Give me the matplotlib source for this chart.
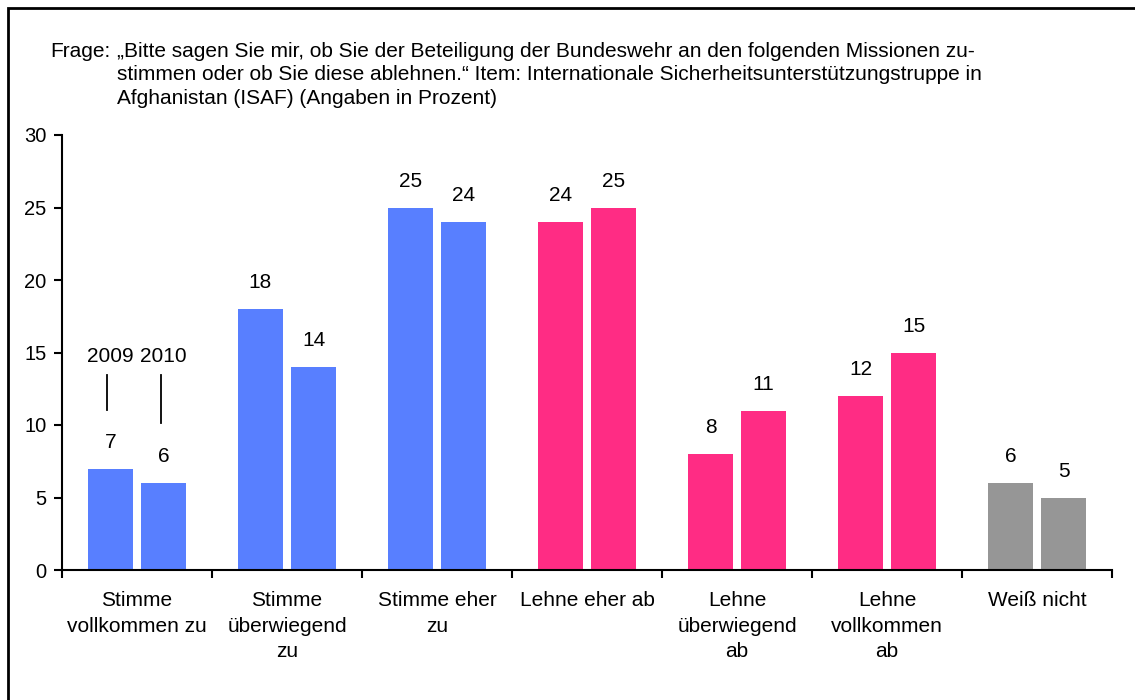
"""
Zustimmung zum ISAF-Einsatz der Bundeswehr, 2009 vs. 2010
"""

import matplotlib
matplotlib.use('Agg')
import matplotlib.pyplot as plt
import matplotlib.patches as patches
import numpy as np

plt.rcParams['font.family'] = ['Liberation Sans', 'DejaVu Sans']

categories = ['Stimme\nvollkommen zu', 'Stimme\nüberwiegend\nzu', 'Stimme eher\nzu',
              'Lehne eher ab', 'Lehne\nüberwiegend\nab', 'Lehne\nvollkommen\nab',
              'Weiß nicht']
vals_2009 = [7, 18, 25, 24, 8, 12, 6]
vals_2010 = [6, 14, 24, 25, 11, 15, 5]
years = ['2009', '2010']

# colours per category: agree = blue, reject = pink, don't know = grey
blue = '#587FFF'
pink = '#FF2C84'
grey = '#969696'
bar_colors = [blue, blue, blue, pink, pink, pink, grey]

title = ('Frage: „Bitte sagen Sie mir, ob Sie der Beteiligung der Bundeswehr an den folgenden Missionen zu-\n'
         'stimmen oder ob Sie diese ablehnen.“ Item: Internationale Sicherheitsunterstützungstruppe in\n'
         'Afghanistan (ISAF) (Angaben in Prozent)')
title_lines = title.split('\n')

fig = plt.figure(figsize=(11.35, 7), dpi=100)
ax = fig.add_axes([62/1135, 1-570/700, 1050/1135, 435/700])

# outer frame (only top/left visible, rest cut off)
fig.patches.append(patches.Rectangle((8/1135, -0.05), 1.2, 1-8/700+0.05, transform=fig.transFigure,
                                     fill=False, edgecolor='black', linewidth=2))

x = np.arange(len(categories))
width = 0.3
off = 0.177
ax.bar(x - off, vals_2009, width, color=bar_colors)
ax.bar(x + off, vals_2010, width, color=bar_colors)

# value labels
for xi, v in zip(x - off, vals_2009):
    ax.annotate(str(v), (xi, v), xytext=(0, 19), textcoords='offset points',
                ha='center', va='center', fontsize=15)
for xi, v in zip(x + off, vals_2010):
    ax.annotate(str(v), (xi, v), xytext=(0, 19), textcoords='offset points',
                ha='center', va='center', fontsize=15)

# year markers over the first group
ax.text(x[0] - off, 14.7, years[0], ha='center', va='center', fontsize=15)
ax.text(x[0] + off, 14.7, years[1], ha='center', va='center', fontsize=15)
ax.plot([x[0] - off - 0.02, x[0] - off - 0.02], [11.05, 13.45], color='black', linewidth=1.3)
ax.plot([x[0] + off - 0.02, x[0] + off - 0.02], [10.15, 13.45], color='black', linewidth=1.3)

ax.set_xlim(-0.5, len(categories) - 0.5)
ax.set_ylim(0, 30)
ax.set_yticks([0, 5, 10, 15, 20, 25, 30])
ax.set_xticks(np.arange(-0.5, len(categories)), minor=False)
ax.set_xticklabels([])
ax.set_xticks(x, minor=True)
ax.set_xticklabels(categories, minor=True, fontsize=15, linespacing=1.45, va='top')
ax.tick_params(axis='x', which='minor', length=0, pad=15)
ax.tick_params(axis='x', which='major', direction='out', length=6, width=1.5)
ax.tick_params(axis='y', direction='out', length=6, width=1.5, labelsize=14.5, pad=5)
for s in ['top', 'right']:
    ax.spines[s].set_visible(False)
for s in ['left', 'bottom']:
    ax.spines[s].set_linewidth(1.5)

# question text, continuation lines indented
fig.text(50/1135, 1-57/700, 'Frage:', fontsize=15, va='baseline', ha='left')
for i, line in enumerate(title_lines):
    txt = line[len('Frage: '):] if i == 0 else line
    fig.text(117/1135, 1-(57 + 23.5*i)/700, txt, fontsize=15, va='baseline', ha='left')

plt.savefig('out.png', dpi=100)
